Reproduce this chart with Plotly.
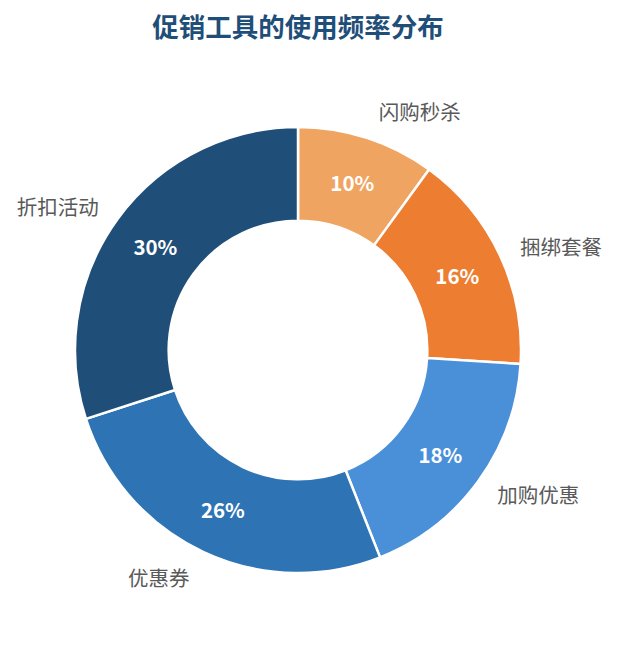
import plotly.graph_objects as go

# data
labels = ["闪购秒杀", "捆绑套餐", "加购优惠", "优惠券", "折扣活动"]
values = [10, 16, 18, 26, 30]
colors = ["#F0A461", "#ED7D31", "#4A90D9", "#2E74B5", "#1F4E79"]

FONT = "Noto Sans CJK SC"
W, H = 619, 645
cx, cy = 290, 342          # pie centre in pixels (page adds ~8px offset)
r_out, r_lab = 223, 237    # ring radius, label radius


def dom(r):
    return dict(
        x=[(cx - r) / W, (cx + r) / W],
        y=[1 - (cy + r) / H, 1 - (cy - r) / H],
    )


fig = go.Figure()

# invisible, slightly larger pie that only carries the outside category labels
fig.add_trace(go.Pie(
    labels=labels, values=values, sort=False, direction="clockwise", rotation=0,
    domain=dom(r_lab), hole=0.6,
    marker=dict(colors=["rgba(0,0,0,0)"] * len(labels), line=dict(width=0)),
    textinfo="label", textposition="outside",
    textfont=dict(family=FONT, size=20.5, color="#595959"),
    hoverinfo="skip", showlegend=False,
))

# the donut itself
fig.add_trace(go.Pie(
    labels=labels, values=values, sort=False, direction="clockwise", rotation=0,
    domain=dom(r_out), hole=0.58,
    marker=dict(colors=colors, line=dict(color="white", width=2.5)),
    texttemplate="%{percent:.0%}", textposition="inside",
    insidetextorientation="horizontal",
    textfont=dict(family=FONT, size=20.5, color="white", weight="bold"),
    showlegend=False,
))

fig.update_layout(
    width=W, height=H,
    title=dict(text="<b>促销工具的使用频率分布</b>", x=290 / W, xanchor="center",
               y=1 - 20 / H, yanchor="middle",
               font=dict(family=FONT, size=26.5, color="#1F4E79")),
    margin=dict(l=0, r=0, t=0, b=0),
    paper_bgcolor="white",
    plot_bgcolor="white",
)

fig.write_html("out.html")
